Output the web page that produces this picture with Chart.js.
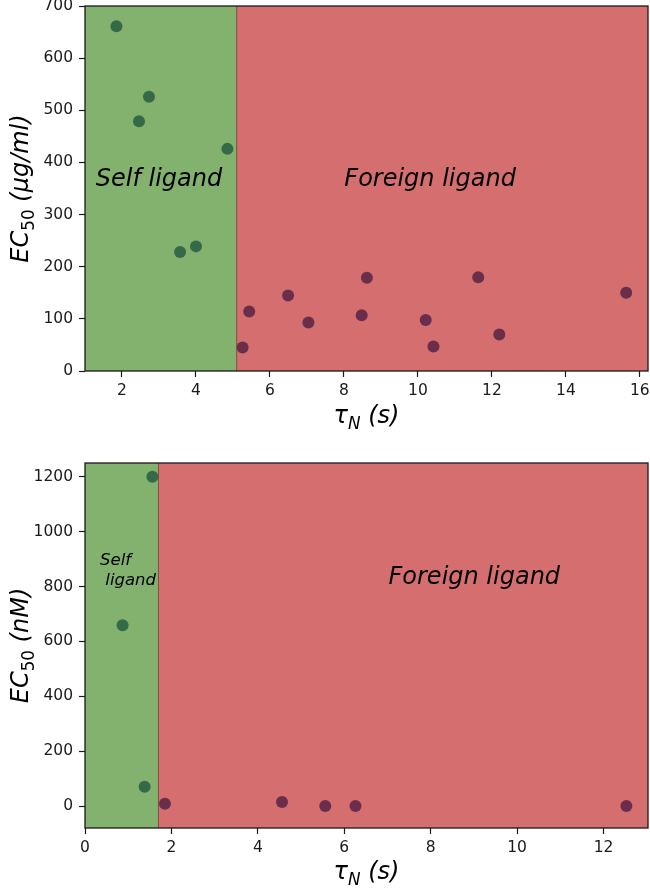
<!DOCTYPE html>
<html>
<head>
<meta charset="utf-8">
<script src="https://cdn.jsdelivr.net/npm/chart.js@4.4.1/dist/chart.umd.min.js"></script>
<style>
  body { margin: 0; background: #fff; overflow: hidden; }
  .box { position: absolute; left: 0; width: 650px; height: 445px; overflow: hidden; }
</style>
</head>
<body>
<div class="box" style="top:0"><canvas id="chartA" width="654" height="445"></canvas></div>
<div class="box" style="top:445px"><canvas id="chartB" width="654" height="445"></canvas></div>
<script>
// top panel: EC50 in ug/ml
const selfTauA = [1.85, 2.46, 2.73, 3.57, 4.0, 4.85];
const selfEcA = [661, 479, 526, 228, 239, 426];
const foreignTauA = [5.26, 5.44, 6.49, 7.04, 8.48, 8.62, 10.21, 10.42, 11.63, 12.2, 15.63];
const foreignEcA = [45, 114, 145, 93, 107, 179, 98, 47, 180, 70, 150];
const boundaryA = 5.1;
const xTicksA = [2, 4, 6, 8, 10, 12, 14, 16];
const yTicksA = [0, 100, 200, 300, 400, 500, 600, 700];

// bottom panel: EC50 in nM
const selfTauB = [0.87, 1.38, 1.56];
const selfEcB = [659, 70, 1200];
const foreignTauB = [1.85, 4.56, 5.56, 6.26, 12.53];
const foreignEcB = [8, 15, 0, 0, 0];
const boundaryB = 1.7;
const xTicksB = [0, 2, 4, 6, 8, 10, 12];
const yTicksB = [0, 200, 400, 600, 800, 1000, 1200];

const GREEN_BG = '#83b16e', RED_BG = '#d56e6f';
const GREEN_DOT = '#346a47', RED_DOT = '#6a2e4b';
const INK = '#1a1a1a';

Chart.defaults.font.family = 'DejaVu Sans';

function pts(xs, ys) {
    return xs.map((x, i) => ({ x: x, y: ys[i] }));
}

// draw a label made of parts; sub parts are smaller and shifted down
function drawParts(ctx, parts, size) {
    let total = 0;
    parts.forEach(p => {
        const s = p.sub ? size * 0.7 : size;
        ctx.font = (p.italic ? 'italic ' : '') + s + 'px DejaVu Sans';
        p.w = ctx.measureText(p.t).width;
        total += p.w;
    });
    let x = -total / 2;
    parts.forEach(p => {
        const s = p.sub ? size * 0.7 : size;
        ctx.font = (p.italic ? 'italic ' : '') + s + 'px DejaVu Sans';
        ctx.fillText(p.t, x, p.sub ? size * 0.3 : 0);
        x += p.w;
    });
}

const regionPlugin = {
    id: 'regions',
    beforeDatasetsDraw(chart, args, opts) {
        const { ctx, chartArea: a, scales } = chart;
        const bx = scales.x.getPixelForValue(opts.boundary);
        ctx.save();
        ctx.fillStyle = GREEN_BG;
        ctx.fillRect(a.left, a.top, bx - a.left, a.bottom - a.top);
        ctx.fillStyle = RED_BG;
        ctx.fillRect(bx, a.top, a.right - bx, a.bottom - a.top);
        ctx.strokeStyle = 'rgba(120,60,45,0.85)';
        ctx.lineWidth = 1;
        ctx.beginPath();
        ctx.moveTo(bx, a.top);
        ctx.lineTo(bx, a.bottom);
        ctx.stroke();
        ctx.restore();
    },
    afterDraw(chart, args, opts) {
        const { ctx, chartArea: a, scales } = chart;
        ctx.save();
        ctx.strokeStyle = INK;
        ctx.lineWidth = 1.3;
        ctx.strokeRect(a.left, a.top, a.right - a.left, a.bottom - a.top);

        // region notes
        ctx.fillStyle = '#000';
        ctx.textBaseline = 'middle';
        opts.notes.forEach(n => {
            ctx.font = 'italic ' + n.size + 'px DejaVu Sans';
            ctx.textAlign = n.align || 'center';
            const px = scales.x.getPixelForValue(n.x);
            const py = scales.y.getPixelForValue(n.y);
            n.lines.forEach((ln, i) => ctx.fillText(ln, px, py + i * n.size * 1.2));
        });

        // axis titles with subscripts
        ctx.textAlign = 'left';
        ctx.textBaseline = 'middle';
        ctx.save();
        ctx.translate((a.left + a.right) / 2, opts.xTitleY);
        drawParts(ctx, [{ t: 'τ', italic: true }, { t: 'N', italic: true, sub: true }, { t: ' (s)', italic: true }], 24);
        ctx.restore();
        ctx.save();
        ctx.translate(22, (a.top + a.bottom) / 2);
        ctx.rotate(-Math.PI / 2);
        drawParts(ctx, [{ t: 'EC', italic: true }, { t: '50', sub: true }, { t: opts.yUnit, italic: true }], 24);
        ctx.restore();
        ctx.restore();
    }
};

function makeChart(id, cfg) {
    return new Chart(document.getElementById(id), {
        type: 'scatter',
        data: {
            datasets: [
                { label: 'Self ligand', data: pts(cfg.selfX, cfg.selfY), backgroundColor: GREEN_DOT, borderWidth: 0, pointRadius: 6, pointHoverRadius: 6 },
                { label: 'Foreign ligand', data: pts(cfg.forX, cfg.forY), backgroundColor: RED_DOT, borderWidth: 0, pointRadius: 6, pointHoverRadius: 6 }
            ]
        },
        options: {
            responsive: false,
            animation: false,
            layout: { padding: { top: cfg.padTop, right: 2, left: 0, bottom: 0 } },
            plugins: {
                legend: { display: false },
                tooltip: { enabled: false },
                regions: { boundary: cfg.boundary, notes: cfg.notes, xTitleY: cfg.xTitleY, yUnit: cfg.yUnit }
            },
            scales: {
                x: {
                    type: 'linear',
                    min: cfg.xMin, max: cfg.xMax,
                    afterBuildTicks: s => { s.ticks = cfg.xTicks.map(v => ({ value: v })); },
                    afterFit: s => { s.height = cfg.xAxisH; s.paddingLeft = 0; s.paddingRight = 0; },
                    grid: { drawOnChartArea: false, drawTicks: true, tickLength: 6, tickWidth: 1.2, color: INK },
                    border: { display: false },
                    ticks: { color: INK, font: { size: 15.5 }, padding: 5, maxRotation: 0, callback: v => String(v) }
                },
                y: {
                    min: cfg.yMin, max: cfg.yMax,
                    afterBuildTicks: s => { s.ticks = cfg.yTicks.map(v => ({ value: v })); },
                    afterFit: s => { s.width = 85; s.paddingTop = 0; s.paddingBottom = 0; },
                    grid: { drawOnChartArea: false, drawTicks: true, tickLength: 6, tickWidth: 1.2, color: INK },
                    border: { display: false },
                    ticks: { color: INK, font: { size: 15.5 }, padding: 6, callback: v => String(v) }
                }
            }
        },
        plugins: [regionPlugin]
    });
}

makeChart('chartA', {
    selfX: selfTauA, selfY: selfEcA, forX: foreignTauA, forY: foreignEcA,
    boundary: boundaryA, xMin: 1.0, xMax: 16.22, yMin: 0, yMax: 700,
    xTicks: xTicksA, yTicks: yTicksA, padTop: 6, xAxisH: 74, xTitleY: 417,
    yUnit: ' (μg/ml)',
    notes: [
        { x: 3.0, y: 366, lines: ['Self ligand'], size: 24 },
        { x: 10.33, y: 366, lines: ['Foreign ligand'], size: 24 }
    ]
});

makeChart('chartB', {
    selfX: selfTauB, selfY: selfEcB, forX: foreignTauB, forY: foreignEcB,
    boundary: boundaryB, xMin: 0, xMax: 13.03, yMin: -80, yMax: 1250,
    xTicks: xTicksB, yTicks: yTicksB, padTop: 18, xAxisH: 62, xTitleY: 428,
    yUnit: ' (nM)',
    notes: [
        { x: 0.35, y: 895, lines: ['Self', ' ligand'], size: 16.5, align: 'left' },
        { x: 9.01, y: 833, lines: ['Foreign ligand'], size: 24 }
    ]
});
</script>
</body>
</html>
